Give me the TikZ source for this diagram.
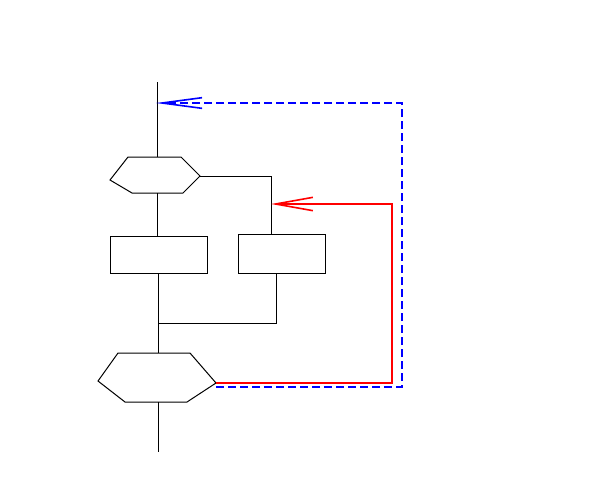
\documentclass[tikz,border=0pt]{standalone}
\usetikzlibrary{arrows.meta}
\begin{document}
\begin{tikzpicture}[x=0.75pt,y=-0.75pt,
  thinline/.style={draw=black,line width=0.75pt},
  redflow/.style={draw=red,line width=1.6pt,-{Straight Barb[length=28pt,width=10pt,line width=1.2pt]}},
  blueflow/.style={draw=blue,line width=1.6pt,dash pattern=on 6pt off 3pt,-{Straight Barb[length=30pt,width=8pt,line width=1.2pt]}},
  boxstyle/.style={draw=black,line width=0.75pt,fill=white}]
\useasboundingbox (0,0) rectangle (600,480);
% coordinates
\coordinate (top) at (157,82);
\coordinate (h1t) at (157,157);
\coordinate (h1b) at (157,193);
\coordinate (h1r) at (200,176);
\coordinate (b2c) at (271,176);
\coordinate (b2t) at (271,234);
\coordinate (b1t) at (157,236);
\coordinate (b1b) at (158,273);
\coordinate (b2b) at (276,273);
\coordinate (jl) at (158,323);
\coordinate (jr) at (276,323);
\coordinate (h2t) at (158,353);
\coordinate (h2b) at (158,402);
\coordinate (bottom) at (158,452);
\coordinate (h2r) at (216,383);
\coordinate (h2rb) at (216,387);
\coordinate (rc1) at (392,383);
\coordinate (rc2) at (392,204);
\coordinate (rtip) at (271,204);
\coordinate (bc1) at (402,387);
\coordinate (bc2) at (402,103);
\coordinate (btip) at (156,103);
% hexagons
\draw[thinline] (128,157) -- (181,157) -- (h1r) -- (183,193) -- (132,193) -- (110,180) -- cycle;
\draw[thinline] (118,353) -- (190,353) -- (h2r) -- (187,402) -- (125,402) -- (98,381) -- cycle;
% boxes
\node[boxstyle,minimum width=72.75pt,minimum height=27.75pt,inner sep=0pt,anchor=north west] (box1) at (110,236) {};
\node[boxstyle,minimum width=65.25pt,minimum height=29.25pt,inner sep=0pt,anchor=north west] (box2) at (238,234) {};
% black connectors
\draw[thinline] (top) -- (h1t);
\draw[thinline] (h1b) -- (b1t);
\draw[thinline] (h1r) -- (b2c) -- (b2t);
\draw[thinline] (b1b) -- (jl) -- (jr) -- (b2b);
\draw[thinline] (jl) -- (h2t);
\draw[thinline] (h2b) -- (bottom);
% feedback
\draw[blueflow] (h2rb) -- (bc1) -- (bc2) -- (btip);
\draw[redflow] (h2r) -- (rc1) -- (rc2) -- (rtip);
\end{tikzpicture}
\end{document}
